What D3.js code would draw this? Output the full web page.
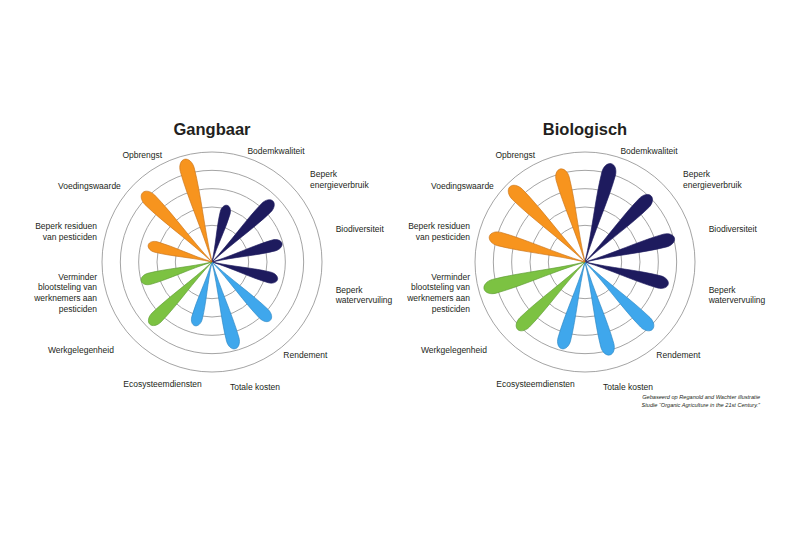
<!DOCTYPE html>
<html>
<head>
<meta charset="utf-8">
<script src="https://cdn.jsdelivr.net/npm/d3@7/dist/d3.min.js"></script>
<style>
  html, body { margin: 0; padding: 0; background: #fff; }
  svg { display: block; }
  text { font-family: "Liberation Sans", Arial, sans-serif; fill: #231f20; }
</style>
</head>
<body>
<svg id="chart" width="800" height="534"></svg>
<script>
// ---- data ----
const categories = [
  "Bodemkwaliteit", "Beperk energieverbruik", "Biodiversiteit", "Beperk watervervuiling",
  "Rendement", "Totale kosten", "Ecosysteemdiensten", "Werkgelegenheid",
  "Verminder blootsteling van werknemers aan pesticiden", "Beperk residuen van pesticiden",
  "Voedingswaarde", "Opbrengst"
];
const labelLines = [
  ["Bodemkwaliteit"], ["Beperk", "energieverbruik"], ["Biodiversiteit"], ["Beperk", "watervervuiling"],
  ["Rendement"], ["Totale kosten"], ["Ecosysteemdiensten"], ["Werkgelegenheid"],
  ["Verminder", "blootsteling van", "werknemers aan", "pesticiden"], ["Beperk residuen", "van pesticiden"],
  ["Voedingswaarde"], ["Opbrengst"]
];
const groups = ["milieu","milieu","milieu","milieu","economie","economie","economie",
                "sociaal","sociaal","productie","productie","productie"];
const gangbaarValues  = [3.2, 4.7, 3.95, 3.7, 4.5, 4.9, 3.6, 4.8, 4.0, 3.6, 5.35, 5.8];
const biologischValues = [5.55, 5.1, 5.05, 4.7, 5.2, 5.25, 4.9, 5.2, 5.7, 5.4, 5.8, 5.25];
const ringLevels = [2, 3, 4, 5, 6];
const titles = ["Gangbaar", "Biologisch"];
const sourceLines = ["Gebaseerd op Reganold and Wachter illustratie",
                     "Studie \u201COrganic Agriculture in the 21st Century.\u201D"];

// ---- drawing ----
const svg = d3.select("#chart");
const R = 110;
const rScale = d3.scaleLinear().domain([0, 6]).range([0, R]);
const angle = d3.scaleBand().domain(categories).range([0, 360]);
const color = d3.scaleOrdinal()
  .domain(["milieu", "economie", "sociaal", "productie"])
  .range(["#1e1b5e", "#3fa7ec", "#7cc242", "#f7941e"]);
const strokeColor = d3.scaleOrdinal()
  .domain(["milieu", "economie", "sociaal", "productie"])
  .range(["#1e1b5e", "#2b86c4", "#5d9b32", "#c9741a"]);

function petalPath(L) {
  const w = 2.4 + 0.045 * L;
  const y0 = L - 1.5 * w;
  const p = d3.path();
  p.moveTo(0, 0);
  p.bezierCurveTo(0.15 * w, -0.35 * y0, 0.95 * w, -0.7 * y0, w, -y0);
  p.bezierCurveTo(w, -(y0 + 0.85 * w), 0.55 * w, -L, 0, -L);
  p.bezierCurveTo(-0.55 * w, -L, -w, -(y0 + 0.85 * w), -w, -y0);
  p.bezierCurveTo(-0.95 * w, -0.7 * y0, -0.15 * w, -0.35 * y0, 0, 0);
  p.closePath();
  return p.toString();
}

function labelAngle(deg) {
  // spread the labels nearest the title / bottom away from the vertical axis
  if (deg < 30) return deg + 15;
  if (deg > 330) return deg - 18;
  if (deg < 60) return deg + 5;
  if (deg > 300 && deg < 330) return deg - 5;
  if (deg > 150 && deg < 180) return deg - 4;
  if (deg > 180 && deg < 210) return deg + 7;
  if (deg > 210 && deg < 240) return deg + 3;
  return deg;
}

function drawFlower(cx, cy, title, values) {
  const g = svg.append("g").attr("transform", `translate(${cx},${cy})`);

  g.selectAll("circle.ring").data(ringLevels).enter().append("circle")
    .attr("class", "ring")
    .attr("r", d => rScale(d))
    .attr("fill", "none")
    .attr("stroke", "#9a9a9a")
    .attr("stroke-width", 0.9);

  const data = categories.map((c, i) => ({ c, v: values[i], grp: groups[i], lines: labelLines[i] }));

  g.selectAll("path.petal").data(data).enter().append("path")
    .attr("class", "petal")
    .attr("d", d => petalPath(rScale(d.v)))
    .attr("transform", d => `rotate(${angle(d.c) + angle.bandwidth() / 2})`)
    .attr("fill", d => color(d.grp))
    .attr("stroke", d => strokeColor(d.grp))
    .attr("stroke-width", 0.6);

  const lh = 10.7;
  data.forEach(d => {
    const a = labelAngle(angle(d.c) + angle.bandwidth() / 2);
    const rad = a * Math.PI / 180;
    const s = Math.sin(rad), co = Math.cos(rad);
    const anchor = s > 0.72 ? "start" : (s < -0.72 ? "end" : "middle");
    let Rl = R + 18;
    if (anchor === "end") Rl = R + 9;
    if (co < -0.5) Rl = R + 22;
    const x = Rl * s, y = -Rl * co;
    const n = d.lines.length;
    const t = g.append("text")
      .attr("text-anchor", anchor)
      .attr("font-size", 8.5);
    d.lines.forEach((ln, k) => {
      t.append("tspan").attr("x", x)
        .attr("y", y + 3 + (k - (n - 1) / 2) * lh)
        .text(ln);
    });
  });

  g.append("text")
    .attr("x", 0).attr("y", -127)
    .attr("text-anchor", "middle")
    .attr("font-size", 16.5)
    .attr("font-weight", "bold")
    .attr("fill", "#111")
    .text(title);
}

drawFlower(212, 262, titles[0], gangbaarValues);
drawFlower(585, 262, titles[1], biologischValues);

const src = svg.append("text")
  .attr("text-anchor", "end")
  .attr("font-size", 5.6)
  .attr("font-style", "italic");
sourceLines.forEach((ln, k) => {
  src.append("tspan").attr("x", 760).attr("y", 399 + k * 8).text(ln);
});
</script>
</body>
</html>
